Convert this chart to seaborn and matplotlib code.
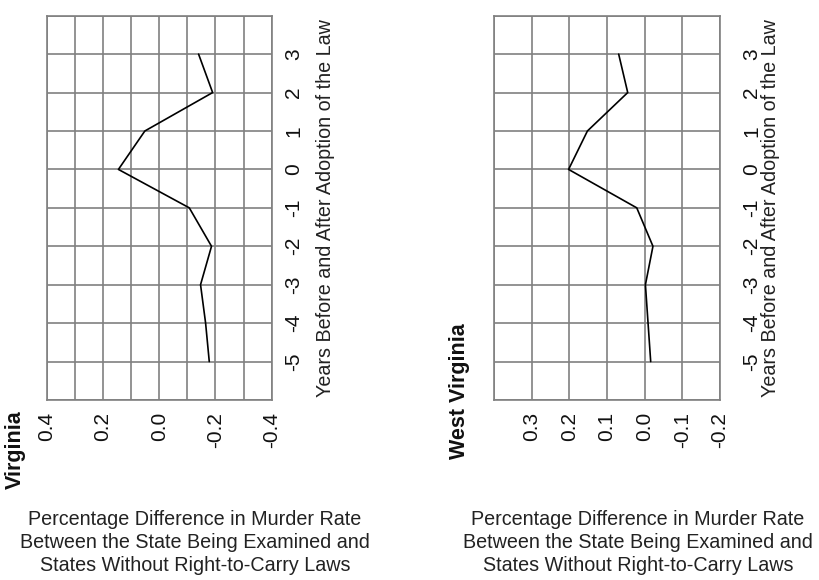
import matplotlib
matplotlib.use("Agg")
import matplotlib.pyplot as plt
import numpy as np
import pandas as pd
import seaborn as sns

# Years relative to adoption of the right-to-carry law
years = [-5, -4, -3, -2, -1, 0, 1, 2, 3]

# Percentage difference in murder rate vs. states without right-to-carry laws
virginia = [-0.178, -0.165, -0.147, -0.186, -0.107, 0.145, 0.051, -0.190, -0.140]
west_virginia = [-0.016, -0.009, -0.002, -0.022, 0.021, 0.202, 0.152, 0.045, 0.069]

virginia_ticks = [0.4, 0.2, 0.0, -0.2, -0.4]
west_virginia_ticks = [0.3, 0.2, 0.1, 0.0, -0.1, -0.2]
year_ticks = [-5, -4, -3, -2, -1, 0, 1, 2, 3]

year_label = "Years Before and After Adoption of the Law"
value_label = ("Percentage Difference in Murder Rate\n"
               "Between the State Being Examined and\n"
               "States Without Right-to-Carry Laws")

sns.set_theme(style="white")
plt.rcParams["font.family"] = ["Liberation Sans", "DejaVu Sans"]

GRID = "#808080"

fig = plt.figure(figsize=(8.2, 5.8), dpi=100)


def panel(rect, values, ticks, xlim, ytick_pad, label_pad):
    ax = fig.add_axes(rect)
    df = pd.DataFrame({"year": years, "value": values})
    sns.lineplot(data=df, x="value", y="year", orient="y", sort=False,
                 color="black", linewidth=1.2, ax=ax)
    ax.set_xlim(*xlim)
    ax.set_ylim(-6, 4)

    lo, hi = min(xlim), max(xlim)
    grid_x = np.round(np.arange(lo, hi + 1e-9, 0.1), 2)
    for gx in grid_x:
        ax.axvline(gx, color=GRID, linewidth=1.2, zorder=0)
    for gy in range(-6, 5):
        ax.axhline(gy, color=GRID, linewidth=1.2, zorder=0)
    for s in ax.spines.values():
        s.set_color(GRID)
        s.set_linewidth(1.2)

    ax.set_xticks(ticks)
    ax.set_xticklabels([f"{t:.1f}" for t in ticks], rotation=90)
    ax.set_yticks(year_ticks)
    ax.set_yticklabels([str(y) for y in year_ticks], rotation=90, va="center")
    ax.yaxis.tick_right()
    ax.yaxis.set_label_position("right")
    ax.tick_params(axis="x", length=0, pad=8.5, labelsize=15, labelcolor="#111111")
    ax.tick_params(axis="y", length=0, pad=ytick_pad, labelsize=15, labelcolor="#111111")
    ax.set_xlabel("")
    ax.set_ylabel(year_label, fontsize=14.2, color="#222222", labelpad=label_pad,
                  rotation=90)
    return ax


panel([46.7 / 820, 1 - 400 / 580, 225 / 820, 384.3 / 580],
      virginia, virginia_ticks, (0.4, -0.4), 9.0, 9)
panel([494 / 820, 1 - 400 / 580, 226 / 820, 384.3 / 580],
      west_virginia, west_virginia_ticks, (0.4, -0.2), 16, 0)

fig.text(15 / 820, 1 - 450 / 580, "Virginia", rotation=90, fontsize=15.5,
         fontweight="bold", ha="center", va="center", color="#111111")
fig.text(460 / 820, 1 - 391 / 580, "West Virginia", rotation=90, fontsize=15.5,
         fontweight="bold", ha="center", va="center", color="#111111")

fig.text(195 / 820, 1 - 542.5 / 580, value_label, fontsize=14.2, ha="center",
         va="center", color="#222222", linespacing=1.25)
fig.text(638 / 820, 1 - 542.5 / 580, value_label, fontsize=14.2, ha="center",
         va="center", color="#222222", linespacing=1.25)

fig.savefig("out.png", dpi=100, facecolor="white")
